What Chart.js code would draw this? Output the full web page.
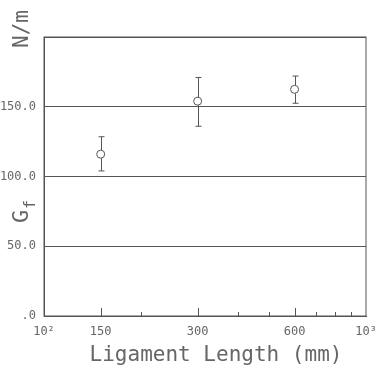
<!DOCTYPE html>
<html>
<head>
<meta charset="utf-8">
<script src="https://cdn.jsdelivr.net/npm/chart.js@4.4.1/dist/chart.umd.min.js"></script>
<style>
  html, body { margin: 0; padding: 0; background: #fff; }
  #wrap { width: 380px; height: 368px; }
</style>
</head>
<body>
<div id="wrap"><canvas id="chart-main" width="380" height="368"></canvas></div>
<script>
// ligament length (mm) and fracture energy Gf (N/m)
const lengths = [150, 300, 600];
const gf = [116, 154, 162.5];
const gfHigh = [128.5, 171, 172];
const gfLow = [104, 136, 152.5];

const xTicks = [100, 150, 200, 300, 400, 500, 600, 700, 800, 900, 1000];
const xLabels = { 100: "10²", 150: "150", 300: "300", 600: "600", 1000: "10³" };
const xLongTicks = [150, 300, 600];
const yTicks = [0, 50, 100, 150, 200];

const INK = "#555";
const TEXT = "#666";
const MONO = "'DejaVu Sans Mono', monospace";

const extras = {
  id: "extras",
  afterDatasetsDraw(chart) {
    const { ctx, chartArea: a, scales } = chart;
    const x = scales.x, y = scales.y;
    ctx.save();
    ctx.strokeStyle = INK;
    ctx.lineWidth = 1;
    ctx.strokeRect(a.left, a.top, a.right - a.left, a.bottom - a.top);

    // inward minor ticks on the log axis
    for (const v of xTicks.slice(1, -1)) {
      const px = Math.round(x.getPixelForValue(v)) + 0.5;
      const len = xLongTicks.includes(v) ? 8 : 4;
      ctx.beginPath();
      ctx.moveTo(px, a.bottom);
      ctx.lineTo(px, a.bottom - len);
      ctx.stroke();
    }

    // error bars
    for (let i = 0; i < lengths.length; i++) {
      const px = Math.round(x.getPixelForValue(lengths[i])) + 0.5;
      const top = y.getPixelForValue(gfHigh[i]);
      const bot = y.getPixelForValue(gfLow[i]);
      const mid = y.getPixelForValue(gf[i]);
      ctx.beginPath();
      ctx.moveTo(px, top); ctx.lineTo(px, mid - 4);
      ctx.moveTo(px, mid + 4); ctx.lineTo(px, bot);
      ctx.moveTo(px - 3, top); ctx.lineTo(px + 3, top);
      ctx.moveTo(px - 3, bot); ctx.lineTo(px + 3, bot);
      ctx.stroke();
    }

    // axis titles
    ctx.fillStyle = TEXT;
    ctx.textBaseline = "middle";
    ctx.textAlign = "center";
    ctx.font = "21px " + MONO;
    ctx.fillText("Ligament Length (mm)", 216, 356);

    ctx.save();
    ctx.translate(23, 29);
    ctx.rotate(-Math.PI / 2);
    ctx.fillText("N/m", 0, 0);
    ctx.restore();

    ctx.save();
    ctx.translate(22, 214);
    ctx.rotate(-Math.PI / 2);
    ctx.textAlign = "left";
    ctx.font = "22px " + MONO;
    ctx.fillText("G", -9, 0);
    ctx.font = "15px " + MONO;
    ctx.fillText("f", 5, 9);
    ctx.restore();
    ctx.restore();
  }
};

new Chart(document.getElementById("chart-main").getContext("2d"), {
  type: "scatter",
  data: {
    datasets: [{
      data: lengths.map((v, i) => ({ x: v, y: gf[i] })),
      pointStyle: "circle",
      pointRadius: 4,
      pointBackgroundColor: "#fff",
      pointBorderColor: INK,
      pointBorderWidth: 1,
    }],
  },
  options: {
    responsive: false,
    animation: false,
    events: [],
    layout: { padding: { top: 37, right: 14, left: 0, bottom: 0 } },
    plugins: { legend: { display: false }, tooltip: { enabled: false } },
    scales: {
      x: {
        type: "logarithmic",
        min: 100,
        max: 1000,
        afterBuildTicks: (s) => { s.ticks = xTicks.map((v) => ({ value: v })); },
        afterFit: (s) => { s.height = 52; s.paddingLeft = 0; s.paddingRight = 0; },
        grid: { display: false, drawTicks: false },
        border: { display: true, color: INK },
        ticks: {
          autoSkip: false,
          maxRotation: 0,
          padding: 9,
          color: TEXT,
          font: { family: MONO, size: 12 },
          callback: (v) => xLabels[v] || "",
        },
      },
      y: {
        min: 0,
        max: 200,
        afterBuildTicks: (s) => { s.ticks = yTicks.map((v) => ({ value: v })); },
        afterFit: (s) => { s.width = 44; s.paddingTop = 0; s.paddingBottom = 0; },
        grid: { color: INK, drawTicks: false },
        border: { display: true, color: INK },
        ticks: {
          padding: 8,
          color: TEXT,
          font: { family: MONO, size: 12 },
          callback: (v) => (v === 200 ? "" : v === 0 ? ".0" : v.toFixed(1)),
        },
      },
    },
  },
  plugins: [extras],
});
</script>
</body>
</html>
